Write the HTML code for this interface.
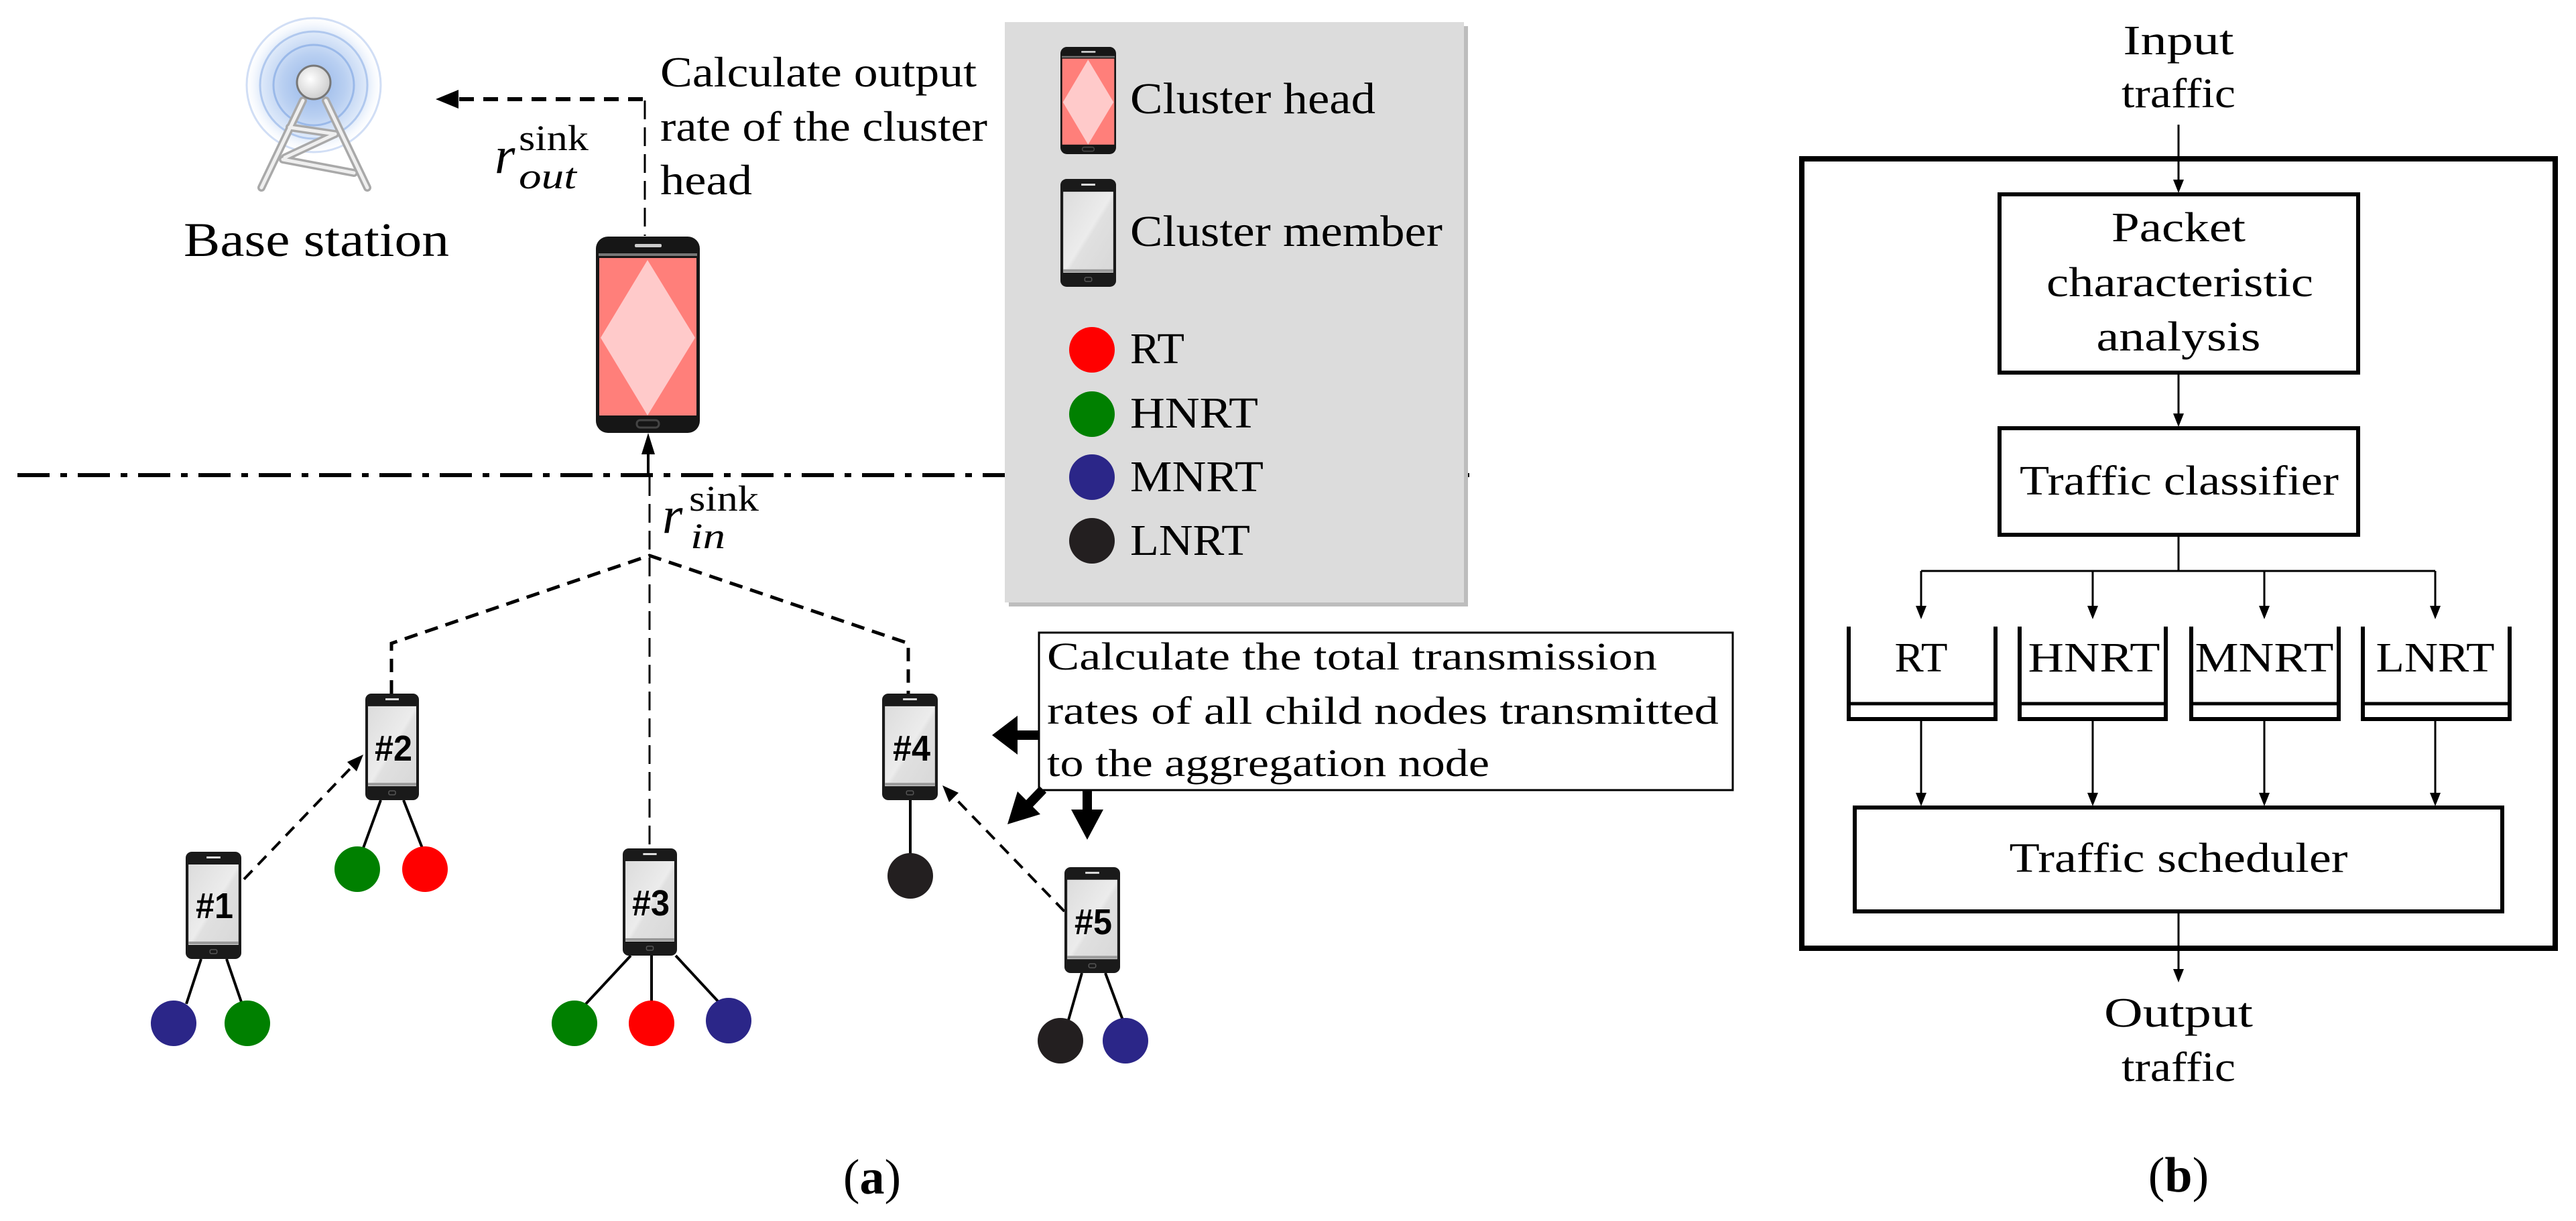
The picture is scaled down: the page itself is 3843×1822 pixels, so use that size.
<!DOCTYPE html>
<html><head><meta charset="utf-8"><style>html,body{margin:0;padding:0;background:#fff}svg{display:block}</style></head>
<body>
<svg xmlns="http://www.w3.org/2000/svg" width="3843" height="1822" viewBox="0 0 3843 1822">
<defs>
<radialGradient id="glow" cx="0.5" cy="0.5" r="0.5">
<stop offset="0" stop-color="#7aa3e3"/><stop offset="0.45" stop-color="#a8c4ee"/><stop offset="0.75" stop-color="#d6e4f8"/><stop offset="1" stop-color="#ffffff" stop-opacity="0"/>
</radialGradient>
<radialGradient id="ball" cx="0.4" cy="0.4" r="0.6">
<stop offset="0" stop-color="#ffffff"/><stop offset="1" stop-color="#cfcfcf"/>
</radialGradient>
<linearGradient id="scr" x1="0" y1="0" x2="1" y2="1">
<stop offset="0" stop-color="#dcdcdc"/><stop offset="0.5" stop-color="#ececec"/><stop offset="0.55" stop-color="#e0e0e0"/><stop offset="1" stop-color="#d8d8d8"/>
</linearGradient>
<symbol id="mem" viewBox="0 0 80 160" preserveAspectRatio="none">
<rect x="0" y="0" width="80" height="160" rx="9" fill="#1a1a1a"/>
<rect x="4" y="19" width="72" height="120" fill="url(#scr)"/>
<rect x="4" y="134" width="72" height="4" fill="#999"/>
<rect x="30" y="7" width="20" height="3" fill="#ddd"/>
<rect x="35" y="146" width="10" height="6" rx="2" fill="none" stroke="#555" stroke-width="1.5"/>
</symbol>
<symbol id="ch" viewBox="0 0 155 293" preserveAspectRatio="none">
<rect x="0" y="0" width="155" height="293" rx="18" fill="#161616"/>
<rect x="4" y="25" width="147" height="4" fill="#777"/>
<rect x="5" y="32" width="145" height="235" fill="#ff7f7a"/>
<polygon points="77,35 148,151 77,267 7,151" fill="#ffcaca"/>
<rect x="58" y="11" width="40" height="5" rx="2" fill="#ccc"/>
<rect x="61" y="274" width="33" height="11" rx="5" fill="none" stroke="#444" stroke-width="3"/>
</symbol>
</defs>

<!-- ===== Panel (a) ===== -->
<!-- tower -->
<circle cx="468" cy="127" r="105" fill="url(#glow)" opacity="0.8"/>
<g fill="none" stroke="#8fb0e6" stroke-width="3">
<circle cx="468" cy="127" r="100" opacity="0.4"/>
<circle cx="468" cy="127" r="80" opacity="0.6"/>
<circle cx="468" cy="127" r="60" opacity="0.8"/>
</g>
<g stroke="#a9a9a9" stroke-width="12" fill="none" stroke-linecap="round">
<line x1="452" y1="150" x2="390" y2="280"/>
<line x1="486" y1="150" x2="548" y2="280"/>
<line x1="432" y1="190" x2="500" y2="200"/>
<line x1="500" y1="200" x2="425" y2="235"/>
<line x1="422" y1="238" x2="528" y2="258"/>
</g>
<g stroke="#efefef" stroke-width="5" fill="none" stroke-linecap="round">
<line x1="452" y1="150" x2="390" y2="280"/>
<line x1="486" y1="150" x2="548" y2="280"/>
<line x1="432" y1="190" x2="500" y2="200"/>
<line x1="500" y1="200" x2="425" y2="235"/>
<line x1="422" y1="238" x2="528" y2="258"/>
</g>
<circle cx="468" cy="123" r="25" fill="url(#ball)" stroke="#777" stroke-width="3"/>
<text x="274" y="382" font-family="Liberation Serif, serif" font-size="72" textLength="396" lengthAdjust="spacingAndGlyphs">Base station</text>

<!-- out arrow -->
<line x1="959" y1="148" x2="680" y2="148" stroke="#000" stroke-width="6" stroke-dasharray="22,14"/>
<polygon points="650,148 684,134 684,162" fill="#000"/>
<line x1="962" y1="150" x2="962" y2="352" stroke="#000" stroke-width="3" stroke-dasharray="28,12"/>
<text x="738" y="258" font-family="Liberation Serif, serif" font-style="italic" font-size="78">r</text>
<text x="774" y="224" font-family="Liberation Serif, serif" font-size="54" textLength="104" lengthAdjust="spacingAndGlyphs">sink</text>
<text x="774" y="281" font-family="Liberation Serif, serif" font-style="italic" font-size="54" textLength="86" lengthAdjust="spacingAndGlyphs">out</text>

<g font-family="Liberation Serif, serif" font-size="64">
<text x="985" y="129" textLength="472" lengthAdjust="spacingAndGlyphs">Calculate output</text>
<text x="985" y="210" textLength="488" lengthAdjust="spacingAndGlyphs">rate of the cluster</text>
<text x="985" y="290" textLength="137" lengthAdjust="spacingAndGlyphs">head</text>
</g>

<use href="#ch" x="889" y="353" width="155" height="293"/>
<line x1="967" y1="709" x2="967" y2="672" stroke="#000" stroke-width="4"/>
<polygon points="967,646 957,678 977,678" fill="#000"/>

<!-- dash-dot line -->
<line x1="26" y1="709" x2="2192" y2="709" stroke="#000" stroke-width="6" stroke-dasharray="48,16,10,16"/>

<!-- legend -->
<rect x="1505" y="39" width="685" height="866" fill="#bdbdbd"/>
<rect x="1499" y="33" width="685" height="866" fill="#dcdcdc"/>
<use href="#ch" x="1582" y="70" width="83" height="160"/>
<use href="#mem" x="1582" y="267" width="83" height="161"/>
<g font-family="Liberation Serif, serif" font-size="66">
<text x="1686" y="169" textLength="366" lengthAdjust="spacingAndGlyphs">Cluster head</text>
<text x="1686" y="367" textLength="466" lengthAdjust="spacingAndGlyphs">Cluster member</text>
<text x="1686" y="542" textLength="81" lengthAdjust="spacingAndGlyphs">RT</text>
<text x="1686" y="638" textLength="191" lengthAdjust="spacingAndGlyphs">HNRT</text>
<text x="1686" y="733" textLength="199" lengthAdjust="spacingAndGlyphs">MNRT</text>
<text x="1686" y="828" textLength="179" lengthAdjust="spacingAndGlyphs">LNRT</text>
</g>
<circle cx="1629" cy="522" r="34" fill="#ff0000"/>
<circle cx="1629" cy="618" r="34" fill="#008000"/>
<circle cx="1629" cy="712" r="34" fill="#2b2688"/>
<circle cx="1629" cy="807" r="34" fill="#231f20"/>

<!-- r_in -->
<text x="988" y="795" font-family="Liberation Serif, serif" font-style="italic" font-size="78">r</text>
<text x="1028" y="762" font-family="Liberation Serif, serif" font-size="54" textLength="104" lengthAdjust="spacingAndGlyphs">sink</text>
<text x="1030" y="818" font-family="Liberation Serif, serif" font-style="italic" font-size="54" textLength="52" lengthAdjust="spacingAndGlyphs">in</text>

<!-- tree dashed -->
<g stroke="#000" fill="none">
<polyline points="584,1035 584,960 969,829 1355,960 1355,1035" stroke-width="5" stroke-dasharray="20,12"/>
<line x1="969" y1="712" x2="969" y2="1266" stroke-width="3" stroke-dasharray="28,12"/>
<line x1="364" y1="1312" x2="530" y2="1139" stroke-width="4" stroke-dasharray="18,12"/>
<line x1="1588" y1="1360" x2="1418" y2="1184" stroke-width="4" stroke-dasharray="18,12"/>
</g>
<polygon points="542,1126 532,1151 518,1137" fill="#000"/>
<polygon points="1406,1172 1430,1183 1416,1197" fill="#000"/>

<!-- child lines -->
<g stroke="#000" stroke-width="4">
<line x1="568" y1="1194" x2="541" y2="1268"/><line x1="602" y1="1194" x2="631" y2="1268"/>
<line x1="1358" y1="1194" x2="1358" y2="1275"/>
<line x1="300" y1="1431" x2="278" y2="1498"/><line x1="338" y1="1431" x2="361" y2="1498"/>
<line x1="941" y1="1426" x2="874" y2="1498"/><line x1="972" y1="1426" x2="972" y2="1494"/><line x1="1008" y1="1426" x2="1071" y2="1494"/>
<line x1="1614" y1="1452" x2="1594" y2="1522"/><line x1="1649" y1="1452" x2="1675" y2="1522"/>
</g>
<circle cx="533" cy="1297" r="34" fill="#008000"/><circle cx="634" cy="1297" r="34" fill="#ff0000"/>
<circle cx="1358" cy="1307" r="34" fill="#231f20"/>
<circle cx="259" cy="1527" r="34" fill="#2b2688"/><circle cx="369" cy="1527" r="34" fill="#008000"/>
<circle cx="857" cy="1527" r="34" fill="#008000"/><circle cx="972" cy="1527" r="34" fill="#ff0000"/><circle cx="1087" cy="1523" r="34" fill="#2b2688"/>
<circle cx="1582" cy="1553" r="34" fill="#231f20"/><circle cx="1679" cy="1553" r="34" fill="#2b2688"/>

<!-- member phones -->
<use href="#mem" x="545" y="1035" width="80" height="159"/>
<use href="#mem" x="1316" y="1035" width="83" height="159"/>
<use href="#mem" x="277" y="1271" width="83" height="160"/>
<use href="#mem" x="929" y="1266" width="81" height="160"/>
<use href="#mem" x="1588" y="1294" width="83" height="158"/>
<g font-family="Liberation Sans, sans-serif" font-weight="bold" font-size="54" text-anchor="middle">
<text x="587" y="1135" textLength="56" lengthAdjust="spacingAndGlyphs">#2</text>
<text x="1360" y="1135" textLength="56" lengthAdjust="spacingAndGlyphs">#4</text>
<text x="320" y="1370" textLength="56" lengthAdjust="spacingAndGlyphs">#1</text>
<text x="971" y="1366" textLength="56" lengthAdjust="spacingAndGlyphs">#3</text>
<text x="1631" y="1394" textLength="56" lengthAdjust="spacingAndGlyphs">#5</text>
</g>

<!-- annotation -->
<rect x="1550" y="944" width="1035" height="235" fill="#fff" stroke="#000" stroke-width="3"/>
<g font-family="Liberation Serif, serif" font-size="58">
<text x="1562" y="999" textLength="910" lengthAdjust="spacingAndGlyphs">Calculate the total transmission</text>
<text x="1562" y="1080" textLength="1002" lengthAdjust="spacingAndGlyphs">rates of all child nodes transmitted</text>
<text x="1562" y="1158" textLength="660" lengthAdjust="spacingAndGlyphs">to the aggregation node</text>
</g>
<line x1="1550" y1="1097" x2="1510" y2="1097" stroke="#000" stroke-width="14"/>
<polygon points="1480,1097 1518,1068 1518,1126" fill="#000"/>
<line x1="1622" y1="1179" x2="1622" y2="1215" stroke="#000" stroke-width="14"/>
<polygon points="1622,1253 1598,1208 1646,1208" fill="#000"/>
<line x1="1556" y1="1178" x2="1533" y2="1202" stroke="#000" stroke-width="14"/>
<polygon points="1503,1230 1552,1215 1518,1181" fill="#000"/>

<text x="1301" y="1781" font-family="Liberation Serif, serif" font-size="74" text-anchor="middle">(<tspan font-weight="bold">a</tspan>)</text>

<!-- ===== Panel (b) ===== -->
<g font-family="Liberation Serif, serif" font-size="62" text-anchor="middle">
<text x="3250" y="81" textLength="165" lengthAdjust="spacingAndGlyphs">Input</text>
<text x="3250" y="160" textLength="170" lengthAdjust="spacingAndGlyphs">traffic</text>
<text x="3250" y="360" textLength="200" lengthAdjust="spacingAndGlyphs">Packet</text>
<text x="3252" y="442" textLength="398" lengthAdjust="spacingAndGlyphs">characteristic</text>
<text x="3250" y="523" textLength="245" lengthAdjust="spacingAndGlyphs">analysis</text>
<text x="3251" y="738" textLength="476" lengthAdjust="spacingAndGlyphs">Traffic classifier</text>
<text x="2866" y="1002" textLength="79" lengthAdjust="spacingAndGlyphs">RT</text>
<text x="3124" y="1002" textLength="197" lengthAdjust="spacingAndGlyphs">HNRT</text>
<text x="3378" y="1002" textLength="207" lengthAdjust="spacingAndGlyphs">MNRT</text>
<text x="3633" y="1002" textLength="177" lengthAdjust="spacingAndGlyphs">LNRT</text>
<text x="3250" y="1301" textLength="505" lengthAdjust="spacingAndGlyphs">Traffic scheduler</text>
<text x="3250" y="1532" textLength="222" lengthAdjust="spacingAndGlyphs">Output</text>
<text x="3250" y="1613" textLength="170" lengthAdjust="spacingAndGlyphs">traffic</text>
</g>
<text x="3250" y="1778" font-family="Liberation Serif, serif" font-size="74" text-anchor="middle">(<tspan font-weight="bold">b</tspan>)</text>

<rect x="2688" y="237" width="1124" height="1178" fill="none" stroke="#000" stroke-width="8"/>
<rect x="2983" y="290" width="535" height="266" fill="none" stroke="#000" stroke-width="6"/>
<rect x="2983" y="639" width="535" height="159" fill="none" stroke="#000" stroke-width="6"/>
<rect x="2767" y="1205" width="966" height="155" fill="none" stroke="#000" stroke-width="6"/>

<g stroke="#000" stroke-width="3" fill="none">
<line x1="3250" y1="186" x2="3250" y2="272"/>
<line x1="3250" y1="558" x2="3250" y2="621"/>
<line x1="3250" y1="800" x2="3250" y2="852"/>
<line x1="2866" y1="852" x2="3633" y2="852"/>
<line x1="2866" y1="852" x2="2866" y2="908"/>
<line x1="3122" y1="852" x2="3122" y2="908"/>
<line x1="3378" y1="852" x2="3378" y2="908"/>
<line x1="3633" y1="852" x2="3633" y2="908"/>
<line x1="2866" y1="1075" x2="2866" y2="1187"/>
<line x1="3122" y1="1075" x2="3122" y2="1187"/>
<line x1="3378" y1="1075" x2="3378" y2="1187"/>
<line x1="3633" y1="1075" x2="3633" y2="1187"/>
<line x1="3250" y1="1362" x2="3250" y2="1450"/>
</g>
<g fill="#000">
<polygon points="3250,288 3242,268 3258,268"/>
<polygon points="3250,637 3242,617 3258,617"/>
<polygon points="2866,924 2858,904 2874,904"/>
<polygon points="3122,924 3114,904 3130,904"/>
<polygon points="3378,924 3370,904 3386,904"/>
<polygon points="3633,924 3625,904 3641,904"/>
<polygon points="2866,1203 2858,1183 2874,1183"/>
<polygon points="3122,1203 3114,1183 3130,1183"/>
<polygon points="3378,1203 3370,1183 3386,1183"/>
<polygon points="3633,1203 3625,1183 3641,1183"/>
<polygon points="3250,1466 3242,1446 3258,1446"/>
</g>
<!-- queues -->
<g stroke="#000" stroke-width="6" fill="none">
<polyline points="2758,935 2758,1073 2977,1073 2977,935"/>
<rect x="2758" y="1050" width="219" height="23" stroke-width="5"/>
<polyline points="3013,935 3013,1073 3231,1073 3231,935"/>
<rect x="3013" y="1050" width="218" height="23" stroke-width="5"/>
<polyline points="3269,935 3269,1073 3489,1073 3489,935"/>
<rect x="3269" y="1050" width="220" height="23" stroke-width="5"/>
<polyline points="3525,935 3525,1073 3744,1073 3744,935"/>
<rect x="3525" y="1050" width="219" height="23" stroke-width="5"/>
</g>
</svg>
</body></html>
